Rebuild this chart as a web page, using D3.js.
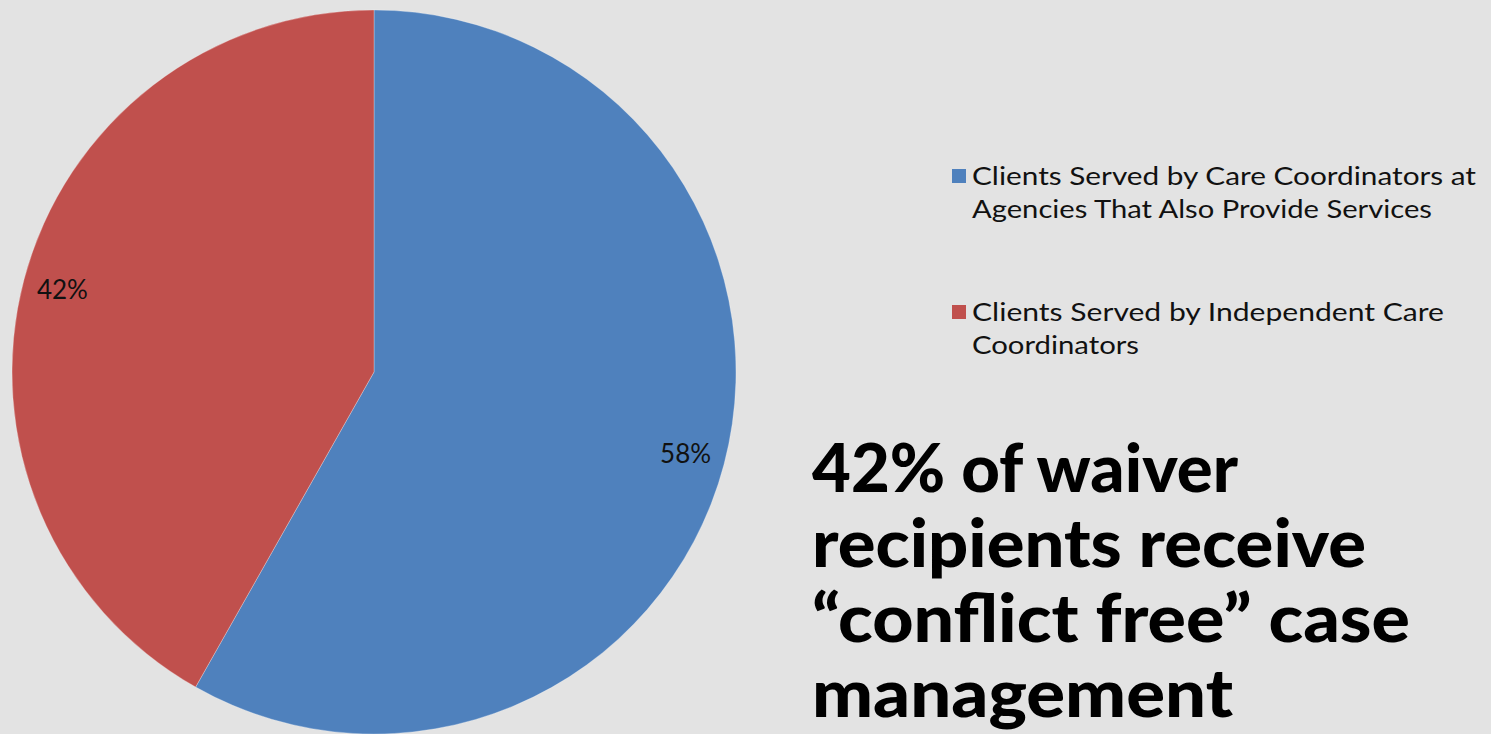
<!DOCTYPE html>
<html>
<head>
<meta charset="utf-8">
<script src="https://cdn.jsdelivr.net/npm/d3@7"></script>
<style>
  html, body { margin: 0; padding: 0; background: #e3e3e3; overflow: hidden; }
  svg { display: block; }
</style>
</head>
<body>
<div id="chart"></div>
<script>
// slice data (percent of waiver recipients)
const categories = [
  "Clients Served by Care Coordinators at Agencies That Also Provide Services",
  "Clients Served by Independent Care Coordinators"
];
const values = [58.2, 41.8];
const sliceColors = ["#4f81bd", "#c0504d"];

// legend text, already wrapped the way the slide shows it
const legendLines = [
  ["Clients Served by Care Coordinators at", "Agencies That Also Provide Services"],
  ["Clients Served by Independent Care", "Coordinators"]
];
const headlineLines = ["42% of waiver", "recipients receive", "\u201Cconflict free\u201D case", "management"];

const W = 1491, H = 734;
const FONT = "'Lato', 'DejaVu Sans', sans-serif";

const svg = d3.select("#chart").append("svg")
  .attr("width", W).attr("height", H);

svg.append("rect").attr("width", W).attr("height", H).attr("fill", "#e3e3e3");

// --- pie ---
const cx = 374, cy = 372, r = 362;
const data = categories.map((c, i) => ({ name: c, value: values[i], color: sliceColors[i] }));

const pie = d3.pie().value(d => d.value).sort(null);
const arc = d3.arc().innerRadius(0).outerRadius(r);
const labelArc = d3.arc().innerRadius(r * 0.89).outerRadius(r * 0.89);

const gPie = svg.append("g").attr("transform", `translate(${cx},${cy})`);
const arcs = pie(data);

gPie.selectAll("path")
  .data(arcs)
  .enter()
  .append("path")
  .attr("d", arc)
  .attr("fill", d => d.data.color)
  .attr("stroke", "#ffffff")
  .attr("stroke-opacity", 0.35)
  .attr("stroke-width", 0.8);

const total = d3.sum(values);
gPie.selectAll("text.pct")
  .data(arcs)
  .enter()
  .append("text")
  .attr("class", "pct")
  .attr("transform", d => `translate(${labelArc.centroid(d)})`)
  .attr("text-anchor", "middle")
  .attr("dy", "0.36em")
  .style("font-family", FONT)
  .style("font-size", "26px")
  .style("fill", "#111")
  .text(d => Math.round(d.data.value / total * 100) + "%");

// --- legend ---
const legend = svg.append("g").attr("transform", "translate(952,0)");
const legendTop = [169, 305];
const legendWidths = [[504, 460], [472, 167]];
legendLines.forEach((lines, i) => {
  const g = legend.append("g").attr("transform", `translate(0,${legendTop[i]})`);
  g.append("rect").attr("width", 14).attr("height", 14).attr("fill", sliceColors[i]);
  lines.forEach((t, j) => {
    g.append("text")
      .attr("x", 20)
      .attr("y", 16 + j * 33)
      .attr("textLength", legendWidths[i][j])
      .attr("lengthAdjust", "spacingAndGlyphs")
      .style("font-family", FONT)
      .style("font-size", "25px")
      .style("fill", "#111")
      .text(t);
  });
});

// --- headline ---
const headWidths = [426, 554, 598, 421];
const head = svg.append("g").attr("transform", "translate(812,0)");
headlineLines.forEach((t, i) => {
  head.append("text")
    .attr("x", 0)
    .attr("y", 492 + i * 75)
    .attr("textLength", headWidths[i])
    .attr("lengthAdjust", "spacingAndGlyphs")
    .style("font-family", FONT)
    .style("font-weight", "900")
    .style("font-size", "66px")
    .style("fill", "#000")
    .text(t);
});
</script>
</body>
</html>
